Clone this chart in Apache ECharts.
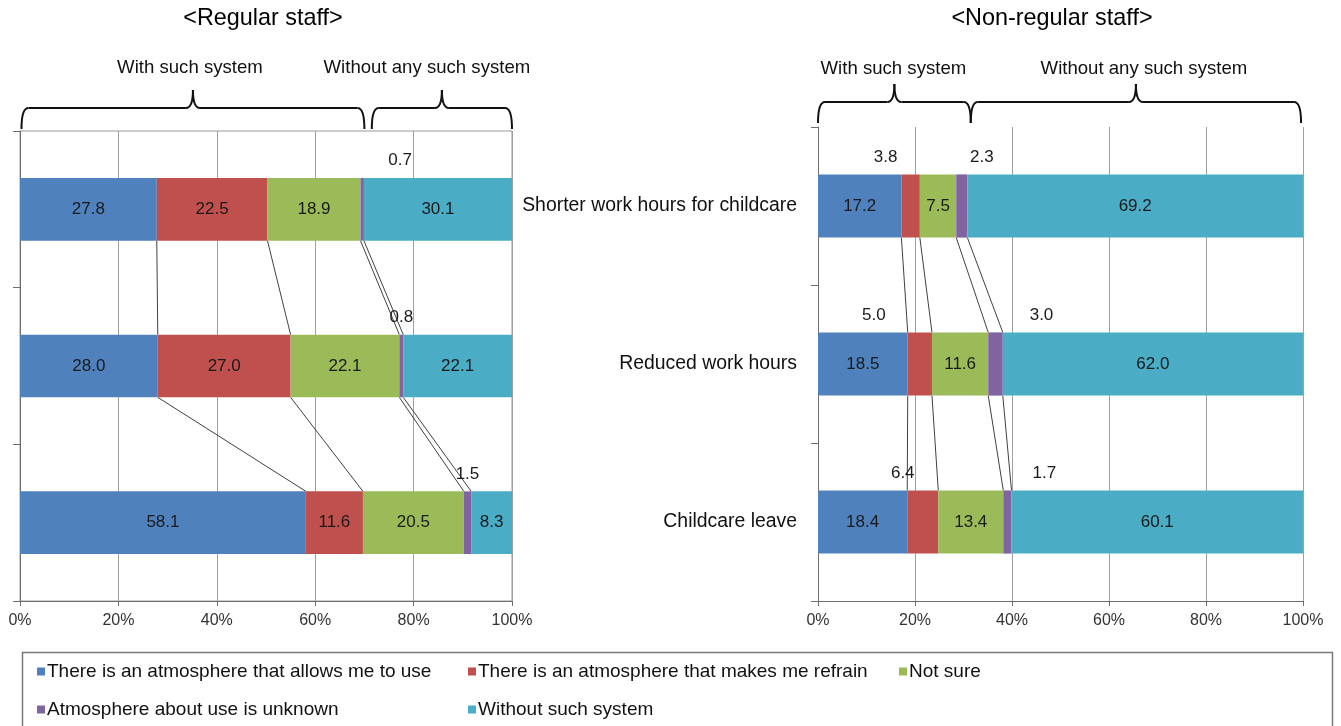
<!DOCTYPE html>
<html>
<head>
<meta charset="utf-8">
<script src="https://cdn.jsdelivr.net/npm/echarts@6/dist/echarts.min.js"></script>
<style>
  html, body { margin: 0; padding: 0; background: #fff; }
  #chart { width: 1341px; height: 726px; }
</style>
</head>
<body>
<div id="chart"></div>
<script>
// Categories (top to bottom)
const categories = ['Shorter work hours for childcare', 'Reduced work hours', 'Childcare leave'];

// Response types, in stacking order
const seriesNames = [
  'There is an atmosphere that allows me to use',
  'There is an atmosphere that makes me refrain',
  'Not sure',
  'Atmosphere about use is unknown',
  'Without such system'
];

// Regular staff (%)
const regularAllow   = [27.8, 28.0, 58.1];
const regularRefrain = [22.5, 27.0, 11.6];
const regularNotSure = [18.9, 22.1, 20.5];
const regularUnknown = [0.7, 0.8, 1.5];
const regularWithout = [30.1, 22.1, 8.3];

// Non-regular staff (%)
const nonRegularAllow   = [17.2, 18.5, 18.4];
const nonRegularRefrain = [3.8, 5.0, 6.4];
const nonRegularNotSure = [7.5, 11.6, 13.4];
const nonRegularUnknown = [2.3, 3.0, 1.7];
const nonRegularWithout = [69.2, 62.0, 60.1];

// Percent axis ticks
const percentTicks = [0, 20, 40, 60, 80, 100];

const panelTitles = ['<Regular staff>', '<Non-regular staff>'];
const groupLabels = ['With such system', 'Without any such system'];

// ---- styling ----
const FONT = '"Liberation Sans", Arial, sans-serif';
const colors = ['#4F81BD', '#C0504D', '#9BBB59', '#8064A2', '#4BACC6'];
const BAR_RATIO = 0.4;

const panels = [
  { values: [regularAllow, regularRefrain, regularNotSure, regularUnknown, regularWithout],
    grid: { left: 20, right: 829, top: 131, bottom: 125, show: true, borderColor: '#9a9a9a', borderWidth: 1 },
    showCats: false,
    // horizontal shifts for small values printed above the bar
    shift: { 3: [38, 0, 0] } },
  { values: [nonRegularAllow, nonRegularRefrain, nonRegularNotSure, nonRegularUnknown, nonRegularWithout],
    grid: { left: 818, right: 38, top: 127, bottom: 125 },
    showCats: true,
    shift: { 1: [-25, -46, -20], 3: [20, 46, 37] } }
];

const grids = [], xAxes = [], yAxes = [], series = [];

panels.forEach((p, pi) => {
  grids.push(p.grid);
  xAxes.push({
    type: 'value', gridIndex: pi, min: percentTicks[0], max: percentTicks[percentTicks.length - 1],
    interval: percentTicks[1] - percentTicks[0],
    axisLine: { show: true, lineStyle: { color: '#6e6e6e', width: 1 } },
    axisTick: { show: true, length: 5, lineStyle: { color: '#6e6e6e' } },
    axisLabel: { formatter: v => v + '%', fontFamily: FONT, fontSize: 16, color: '#333', margin: 12 },
    splitLine: { show: true, lineStyle: { color: '#a0a0a0', width: 1 } }
  });
  yAxes.push({
    type: 'category', gridIndex: pi, data: categories, inverse: true,
    axisLine: { show: true, lineStyle: { color: '#6e6e6e', width: 1 } },
    axisTick: { show: true, length: 7, alignWithLabel: false, lineStyle: { color: '#6e6e6e' } },
    axisLabel: { show: p.showCats, fontFamily: FONT, fontSize: 19.4, color: '#111', margin: 21 },
    splitLine: { show: false }
  });

  p.values.forEach((vals, si) => {
    series.push({
      name: seriesNames[si], type: 'bar', stack: 'panel' + pi,
      xAxisIndex: pi, yAxisIndex: pi,
      barWidth: (BAR_RATIO * 100) + '%',
      itemStyle: { color: colors[si] },
      emphasis: { disabled: true },
      label: { show: true, position: 'inside', fontFamily: FONT, fontSize: 17, color: '#1a1a1a',
               formatter: d => d.value.toFixed(1) },
      data: vals.map((v, ci) => {
        if (v > 7) return v;
        const dx = p.shift[si] ? p.shift[si][ci] : 0;
        return { value: v, label: { position: 'top', distance: 9, offset: [dx, 0] } };
      })
    });
  });

  // series lines joining segment boundaries of neighbouring bars
  const cum = categories.map((_, ci) => {
    let s = 0; const out = [];
    for (let k = 0; k < 4; k++) { s += p.values[k][ci]; out.push(s); }
    return out;
  });
  const links = [];
  for (let ci = 0; ci < categories.length - 1; ci++) {
    for (let k = 0; k < 4; k++) links.push([cum[ci][k], ci, cum[ci + 1][k]]);
  }
  series.push({
    type: 'custom', xAxisIndex: pi, yAxisIndex: pi, silent: true, z: 1,
    encode: { x: [0, 2], y: 1 },
    data: links,
    renderItem: (params, api) => {
      const a = api.coord([api.value(0), api.value(1)]);
      const b = api.coord([api.value(2), api.value(1) + 1]);
      const half = api.size([0, 1])[1] * BAR_RATIO / 2;
      return {
        type: 'line',
        shape: { x1: a[0], y1: a[1] + half, x2: b[0], y2: b[1] - half },
        style: { stroke: '#404040', lineWidth: 1 }
      };
    }
  });
});

// legend: one component per entry so the entries sit in two aligned columns
const legendCells = [[32, 661], [463, 661], [894, 661], [32, 699], [463, 699]];
const legends = seriesNames.map((n, i) => ({
  left: legendCells[i][0], top: legendCells[i][1] - 4,
  icon: 'rect', itemWidth: 8, itemHeight: 8, selectedMode: false,
  textStyle: { fontFamily: FONT, fontSize: 19, color: '#111', padding: [0, 0, 0, -3] },
  data: [n]
}));

const option = {
  animation: false,
  backgroundColor: '#fff',
  color: colors,
  grid: grids, xAxis: xAxes, yAxis: yAxes, series: series,
  legend: legends
};

const chart = echarts.init(document.getElementById('chart'), null, { renderer: 'canvas' });
chart.setOption(option);

// ---- braces and headings above each panel ----
function px(gi, pct) { return chart.convertToPixel({ gridIndex: gi }, [pct, 0])[0]; }

const STROKE = { stroke: '#111', lineWidth: 2, fill: null };
function brace(x1, x2, tip, yH, yEnd, yTip) {
  const r = 7;
  const q = (ax, ay, cx, cy, bx, by) => ({
    type: 'bezierCurve', silent: true,
    shape: { x1: ax, y1: ay, cpx1: cx, cpy1: cy, x2: bx, y2: by }, style: STROKE
  });
  const l = (ax, ay, bx, by) => ({
    type: 'line', silent: true, shape: { x1: ax, y1: ay, x2: bx, y2: by }, style: STROKE
  });
  return [
    q(x1, yEnd, x1, yH, x1 + r, yH),
    l(x1 + r, yH, tip - r, yH),
    q(tip - r, yH, tip, yH, tip, yTip),
    q(tip, yTip, tip, yH, tip + r, yH),
    l(tip + r, yH, x2 - r, yH),
    q(x2 - r, yH, x2, yH, x2, yEnd)
  ];
}

// brace spans in axis percent
const braceSpans = [
  { gi: 0, spans: [[0.3, 70.0], [71.5, 100]], yH: 108, yEnd: 129, yTip: 90, textY: 68, textDx: [-3, -15], titleX: 263 },
  { gi: 1, spans: [[0, 31.5], [31.5, 99.6]], yH: 102, yEnd: 123, yTip: 84, textY: 69, textDx: [-1, 8], titleX: 1052 }
];

const graphics = [];
braceSpans.forEach((b, bi) => {
  graphics.push({
    type: 'text', silent: true, x: b.titleX, y: 19,
    style: { text: panelTitles[bi], font: '23.4px ' + FONT, fill: '#000',
             align: 'center', verticalAlign: 'middle' }
  });
  b.spans.forEach((s, si) => {
    const x1 = px(b.gi, s[0]), x2 = px(b.gi, s[1]);
    const tip = (x1 + x2) / 2;
    brace(x1, x2, tip, b.yH, b.yEnd, b.yTip).forEach(e => graphics.push(e));
    graphics.push({
      type: 'text', silent: true, x: tip + b.textDx[si], y: b.textY,
      style: { text: groupLabels[si], font: '18.6px ' + FONT, fill: '#111',
               align: 'center', verticalAlign: 'middle' }
    });
  });
});

// legend frame
graphics.push({
  type: 'rect', silent: true, z: -1,
  shape: { x: 22.5, y: 652.5, width: 1310, height: 100 },
  style: { stroke: '#7a7a7a', lineWidth: 1.5, fill: null }
});

chart.setOption({ graphic: { elements: graphics } });
</script>
</body>
</html>
